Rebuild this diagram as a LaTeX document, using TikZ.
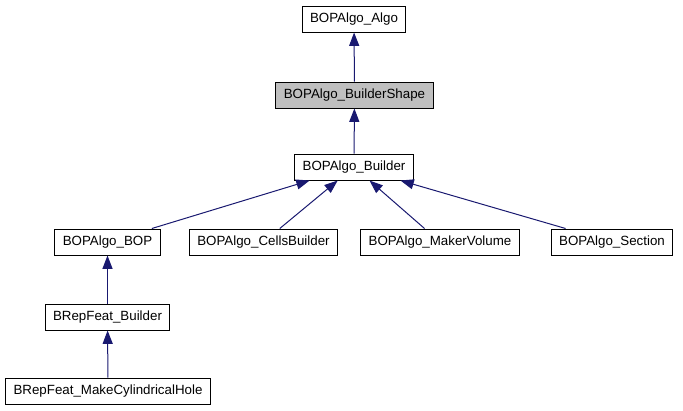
\documentclass[tikz,border=0pt]{standalone}
\usepackage{fontspec}
\setmainfont{Liberation Sans}
\usetikzlibrary{arrows.meta}
\definecolor{edgeblue}{HTML}{191970}
\definecolor{curgray}{HTML}{BFBFBF}
\tikzset{
  cls/.style={draw=black,line width=0.75pt,fill=white,rectangle,
    inner xsep=6pt,inner ysep=0pt,minimum height=19.5pt,font=\fontsize{10}{12}\selectfont},
  cur/.style={cls,fill=curgray},
  inh/.style={-{Triangle[length=10pt,width=7.5pt]},line width=0.75pt,edgeblue},
}
\begin{document}
\begin{tikzpicture}[x=0.75pt,y=-0.75pt]
  \useasboundingbox (0,0) rectangle (683,411);
  % top of the hierarchy
  \node[cls] (algo) at (354,19) {BOPAlgo\_Algo};
  \node[cur] (shape) at (354.5,95) {BOPAlgo\_BuilderShape};
  \node[cls] (builder) at (354,167) {BOPAlgo\_Builder};
  % direct children of the builder
  \node[cls] (bop) at (107.5,242) {BOPAlgo\_BOP};
  \node[cls] (cells) at (263.5,242) {BOPAlgo\_CellsBuilder};
  \node[cls] (maker) at (440,242) {BOPAlgo\_MakerVolume};
  \node[cls] (section) at (612,242) {BOPAlgo\_Section};
  % BRepFeat branch
  \node[cls] (rfbuild) at (107.5,317) {BRepFeat\_Builder};
  \node[cls] (hole) at (108,391) {BRepFeat\_MakeCylindricalHole};
  % inheritance arrows
  \draw[inh] (shape) -- (algo);
  \draw[inh] (builder) -- (shape);
  \draw[inh] (bop) -- (builder);
  \draw[inh] (cells) -- (builder);
  \draw[inh] (maker) -- (builder);
  \draw[inh] (section) -- (builder);
  \draw[inh] (rfbuild) -- (bop);
  \draw[inh] (hole) -- (rfbuild);
\end{tikzpicture}
\end{document}
